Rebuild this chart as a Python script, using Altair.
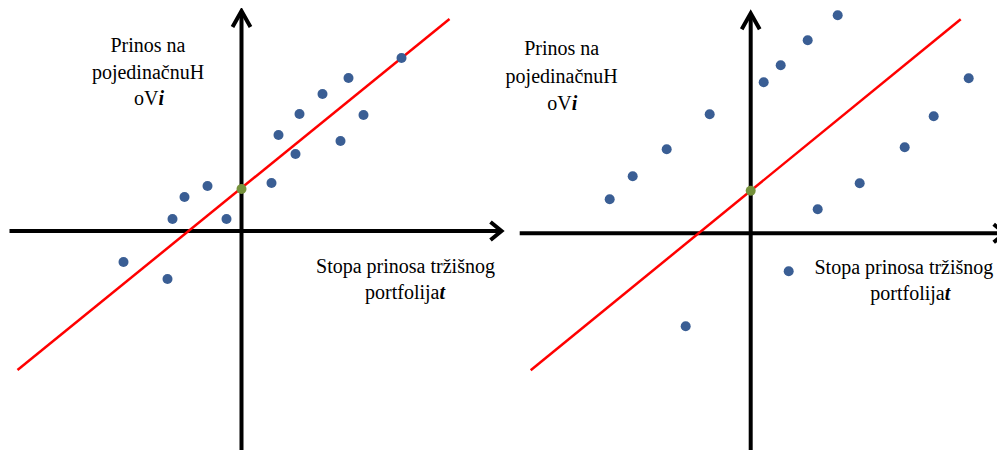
import altair as alt
import pandas as pd

# ---------------- data (market return x, stock return y) ----------------
left_mkt = [8.0, 5.35, 4.05, 2.9, 6.1, 1.85, 4.95, 2.7, 1.5, -1.7, -2.85, -3.45, -0.75, -5.9, -3.7]
left_ret = [8.65, 7.65, 6.85, 5.85, 5.8, 4.8, 4.5, 3.85, 2.4, 2.25, 1.7, 0.6, 0.6, -1.55, -2.4]

right_mkt = [4.35, 2.85, 1.5, 0.65, 10.9, -2.05, 9.15, -4.2, 7.7, -5.9, -7.05, 5.45, 3.35, 1.9, -3.25]
right_ret = [10.9, 9.65, 8.4, 7.55, 7.75, 5.95, 5.85, 4.2, 4.3, 2.85, 1.7, 2.5, 1.2, -1.9, -4.65]

# regression (characteristic) lines: endpoints
left_line_x = [-11.2, 10.4]
left_line_y = [-6.95, 10.6]
right_line_x = [-11.0, 10.5]
right_line_y = [-6.85, 10.7]

# intercepts (alpha)
left_alpha = 2.1
right_alpha = 2.13

# axis extents
left_hx = [-11.6, 13.0]
left_vy = [-11.4, 11.0]
right_hx = [-11.55, 12.7]
right_vy = [-11.3, 11.0]

# label texts
y_label_lines = ["Prinos na", "pojedinačnuH"]
y_label_tail = ["oV", "i"]
x_label_line = "Stopa prinosa tržišnog"
x_label_tail = ["portfolija", "t"]

BLUE = "#3A5E94"
GREEN = "#76923C"
RED = "#FF0000"
FONT = "Liberation Serif, Times New Roman, serif"
H = 442


def panel(mx, ry, lx, ly, alpha, hx, vy, xdom, ydom, width, ylab_pos, xlab_pos, tail_pos):
    sx = alt.Scale(domain=xdom, nice=False, zero=False)
    sy = alt.Scale(domain=ydom, nice=False, zero=False)

    def X(f):
        return alt.X(f, type="quantitative", scale=sx, axis=None)

    def Y(f):
        return alt.Y(f, type="quantitative", scale=sy, axis=None)

    layers = []
    # horizontal axis
    layers.append(
        alt.Chart(pd.DataFrame({"x": [hx[0]], "x2": [hx[1] - 0.1], "y": [0.0]}))
        .mark_rule(color="black", strokeWidth=4, clip=True)
        .encode(x=X("x"), x2="x2", y=Y("y"))
    )
    # vertical axis
    layers.append(
        alt.Chart(pd.DataFrame({"x": [0.0], "y": [vy[0]], "y2": [vy[1] - 0.1]}))
        .mark_rule(color="black", strokeWidth=4, clip=True)
        .encode(x=X("x"), y=Y("y"), y2="y2")
    )
    # arrow heads
    ah = pd.DataFrame({
        "x": [hx[1] - 0.55, hx[1], hx[1] - 0.55],
        "y": [0.45, 0.0, -0.45],
        "o": [0, 1, 2],
    })
    av = pd.DataFrame({
        "x": [-0.45, 0.0, 0.45],
        "y": [vy[1] - 0.8, vy[1], vy[1] - 0.8],
        "o": [0, 1, 2],
    })
    for d in (ah, av):
        layers.append(
            alt.Chart(d)
            .mark_line(color="black", strokeWidth=4, strokeJoin="miter", strokeCap="butt", clip=True)
            .encode(x=X("x"), y=Y("y"), order="o:O")
        )
    # regression line
    layers.append(
        alt.Chart(pd.DataFrame({"x": lx, "y": ly}))
        .mark_line(color=RED, strokeWidth=2.5, clip=True)
        .encode(x=X("x"), y=Y("y"))
    )
    # points
    layers.append(
        alt.Chart(pd.DataFrame({"x": mx, "y": ry}))
        .mark_circle(color=BLUE, opacity=1, size=100, clip=True)
        .encode(x=X("x"), y=Y("y"))
    )
    # intercept
    layers.append(
        alt.Chart(pd.DataFrame({"x": [0.0], "y": [alpha]}))
        .mark_circle(color=GREEN, opacity=1, size=100, clip=True)
        .encode(x=X("x"), y=Y("y"))
    )
    # centred text lines
    cx, cy, dy = ylab_pos
    xx, xy = xlab_pos
    txt = pd.DataFrame({
        "x": [cx, cx, xx],
        "y": [cy, cy - dy, xy],
        "t": y_label_lines + [x_label_line],
    })
    layers.append(
        alt.Chart(txt)
        .mark_text(font=FONT, fontSize=20, color="black", align="center", baseline="middle", clip=True)
        .encode(x=X("x"), y=Y("y"), text="t:N")
    )
    (tx1, ty1), (tx2, ty2) = tail_pos
    normal = pd.DataFrame({"x": [tx1, tx2], "y": [ty1, ty2], "t": [y_label_tail[0], x_label_tail[0]]})
    bold = pd.DataFrame({"x": [tx1, tx2], "y": [ty1, ty2], "t": [y_label_tail[1], x_label_tail[1]]})
    layers.append(
        alt.Chart(normal)
        .mark_text(font=FONT, fontSize=20, color="black", align="right", baseline="middle", clip=True)
        .encode(x=X("x"), y=Y("y"), text="t:N")
    )
    layers.append(
        alt.Chart(bold)
        .mark_text(font=FONT, fontSize=20, color="black", align="left", baseline="middle",
                   fontStyle="italic", fontWeight="bold", clip=True)
        .encode(x=X("x"), y=Y("y"), text="t:N")
    )
    return alt.layer(*layers).properties(width=width, height=H)


left = panel(
    left_mkt, left_ret, left_line_x, left_line_y, left_alpha, left_hx, left_vy,
    [-11.675, 13.175], [-10.95, 11.15], 497,
    (-4.675, 9.25, 1.33), (8.2, -1.8), ((-4.15, 6.6), (9.9, -3.1)),
)
right = panel(
    right_mkt, right_ret, right_line_x, right_line_y, right_alpha, right_hx, right_vy,
    [-12.285, 12.315], [-10.835, 11.265], 492,
    (-9.45, 9.2, 1.36), (7.66, -1.735), ((-8.95, 6.47), (9.7, -3.03)),
)

chart = (
    alt.hconcat(left, right, spacing=0)
    .resolve_scale(x="independent", y="independent")
    .properties(padding=0, background="white")
    .configure_view(stroke=None)
)

chart.save("out.html", embed_options={"renderer": "svg", "actions": False})
